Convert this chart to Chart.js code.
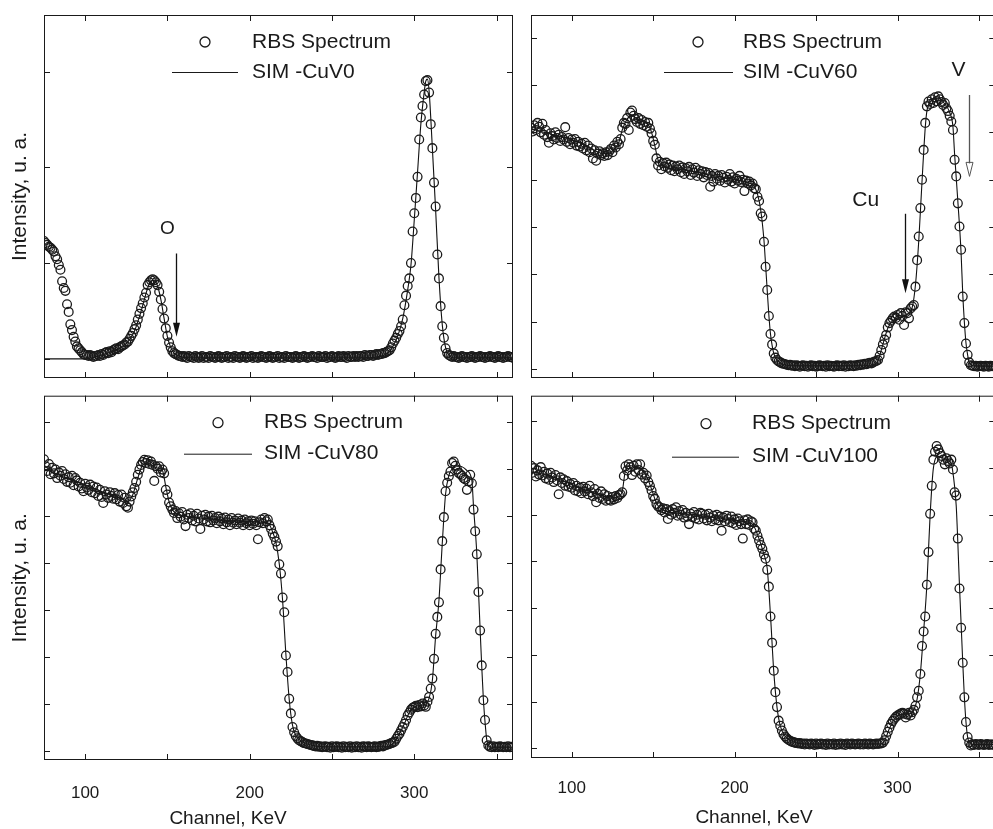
<!DOCTYPE html>
<html>
<head>
<meta charset="utf-8">
<script src="https://cdn.jsdelivr.net/npm/chart.js"></script>
<style>
body{margin:0;background:#fff;overflow:hidden;width:993px;height:829px;position:relative;}
canvas{position:absolute;}
</style>
</head>
<body>
<canvas id="cuv0" width="520" height="390" style="left:0;top:0"></canvas>
<canvas id="cuv60" width="481" height="390" style="left:520px;top:0"></canvas>
<canvas id="cuv80" width="520" height="439" style="left:0;top:390px"></canvas>
<canvas id="cuv100" width="481" height="439" style="left:520px;top:390px"></canvas>
<script>

const FONT = "'Liberation Sans', Arial, sans-serif";

// channel numbers for the RBS points (one per channel)
const channels = [
75,76,77,78,79,80,81,82,83,84,
85,86,87,88,89,90,91,92,93,94,
95,96,97,98,99,100,101,102,103,104,
105,106,107,108,109,110,111,112,113,114,
115,116,117,118,119,120,121,122,123,124,
125,126,127,128,129,130,131,132,133,134,
135,136,137,138,139,140,141,142,143,144,
145,146,147,148,149,150,151,152,153,154,
155,156,157,158,159,160,161,162,163,164,
165,166,167,168,169,170,171,172,173,174,
175,176,177,178,179,180,181,182,183,184,
185,186,187,188,189,190,191,192,193,194,
195,196,197,198,199,200,201,202,203,204,
205,206,207,208,209,210,211,212,213,214,
215,216,217,218,219,220,221,222,223,224,
225,226,227,228,229,230,231,232,233,234,
235,236,237,238,239,240,241,242,243,244,
245,246,247,248,249,250,251,252,253,254,
255,256,257,258,259,260,261,262,263,264,
265,266,267,268,269,270,271,272,273,274,
275,276,277,278,279,280,281,282,283,284,
285,286,287,288,289,290,291,292,293,294,
295,296,297,298,299,300,301,302,303,304,
305,306,307,308,309,310,311,312,313,314,
315,316,317,318,319,320,321,322,323,324,
325,326,327,328,329,330,331,332,333,334,
335,336,337,338,339,340,341,342,343,344,
345,346,347,348,349,350,351,352,353,354,
355,356,357,358,359,360
];

const rbsCuV0 = [
1.23,1.21,1.19,1.17,1.16,1.14,1.12,1.07,1.04,0.98,
0.93,0.81,0.74,0.71,0.57,0.49,0.36,0.30,0.23,0.18,
0.13,0.11,0.09,0.07,0.05,0.04,0.04,0.03,0.04,0.03,
0.02,0.03,0.03,0.04,0.03,0.05,0.04,0.06,0.07,0.06,
0.08,0.07,0.09,0.10,0.11,0.10,0.12,0.13,0.14,0.15,
0.17,0.18,0.21,0.24,0.27,0.31,0.35,0.41,0.47,0.53,
0.58,0.64,0.69,0.77,0.80,0.82,0.83,0.82,0.80,0.77,
0.70,0.62,0.52,0.42,0.32,0.24,0.17,0.12,0.08,0.06,
0.05,0.04,0.03,0.03,0.02,0.03,0.02,0.01,0.03,0.02,
0.02,0.01,0.03,0.02,0.01,0.02,0.03,0.01,0.02,0.02,
0.01,0.03,0.02,0.02,0.01,0.02,0.03,0.02,0.01,0.02,
0.02,0.03,0.01,0.02,0.02,0.01,0.03,0.02,0.02,0.01,
0.02,0.03,0.02,0.01,0.02,0.02,0.03,0.01,0.02,0.02,
0.01,0.02,0.03,0.02,0.02,0.01,0.02,0.03,0.02,0.01,
0.02,0.02,0.03,0.01,0.02,0.02,0.01,0.03,0.02,0.02,
0.02,0.01,0.02,0.03,0.02,0.01,0.02,0.02,0.03,0.02,
0.01,0.02,0.02,0.03,0.02,0.02,0.01,0.03,0.02,0.02,
0.02,0.03,0.01,0.02,0.02,0.03,0.02,0.01,0.02,0.03,
0.02,0.02,0.03,0.02,0.01,0.03,0.02,0.02,0.03,0.02,
0.03,0.02,0.03,0.03,0.02,0.04,0.03,0.03,0.04,0.04,
0.03,0.04,0.05,0.04,0.05,0.05,0.06,0.06,0.07,0.08,
0.09,0.12,0.16,0.19,0.22,0.26,0.29,0.34,0.41,0.56,
0.66,0.76,0.84,1.00,1.33,1.52,1.68,1.90,2.29,2.52,
2.64,2.76,2.90,2.91,2.78,2.45,2.20,1.84,1.59,1.09,
0.84,0.55,0.34,0.22,0.11,0.06,0.04,0.03,0.02,0.03,
0.02,0.02,0.01,0.02,0.03,0.02,0.02,0.01,0.02,0.02,
0.03,0.02,0.01,0.02,0.02,0.03,0.02,0.02,0.01,0.02,
0.02,0.03,0.02,0.02,0.01,0.02,0.03,0.02,0.02,0.01,
0.02,0.02,0.03,0.02,0.02,0.01
];

const rbsCuV60 = [
5.10,5.02,5.15,5.05,5.20,5.12,5.00,5.18,4.95,5.05,
4.90,4.78,4.98,4.92,4.85,5.00,4.88,4.95,4.82,4.90,
4.85,5.11,4.80,4.88,4.75,4.85,4.78,4.86,4.72,4.80,
4.70,4.76,4.66,4.78,4.62,4.72,4.58,4.66,4.45,4.62,
4.40,4.55,4.60,4.52,4.56,4.50,4.58,4.52,4.60,4.65,
4.58,4.72,4.68,4.80,4.75,4.86,5.10,5.20,5.18,5.30,
5.05,5.42,5.46,5.35,5.28,5.22,5.30,5.18,5.26,5.15,
5.22,5.12,5.20,5.08,4.98,4.82,4.74,4.45,4.30,4.38,
4.22,4.35,4.28,4.36,4.25,4.32,4.20,4.30,4.18,4.28,
4.22,4.30,4.16,4.26,4.12,4.24,4.18,4.27,4.10,4.22,
4.15,4.25,4.08,4.20,4.12,4.18,4.05,4.16,4.10,4.14,
3.85,4.08,3.96,4.12,4.02,4.08,3.98,4.10,4.04,3.94,
4.06,4.00,4.12,3.96,4.05,3.92,4.02,3.98,4.08,3.95,
4.00,3.76,3.98,3.92,3.96,3.88,3.92,3.82,3.80,3.64,
3.55,3.29,3.22,2.69,2.16,1.67,1.12,0.74,0.52,0.33,
0.24,0.19,0.16,0.14,0.12,0.11,0.10,0.09,0.08,0.09,
0.07,0.08,0.06,0.08,0.07,0.05,0.07,0.08,0.06,0.07,
0.05,0.07,0.08,0.06,0.07,0.05,0.06,0.08,0.07,0.06,
0.07,0.05,0.08,0.06,0.07,0.06,0.05,0.07,0.08,0.06,
0.07,0.06,0.08,0.05,0.07,0.06,0.08,0.07,0.06,0.08,
0.07,0.09,0.08,0.10,0.09,0.11,0.10,0.12,0.13,0.12,
0.14,0.16,0.17,0.19,0.28,0.40,0.52,0.62,0.72,0.88,
0.97,1.02,1.07,1.11,1.08,1.14,1.04,1.18,1.12,0.93,
1.20,1.18,1.07,1.28,1.32,1.35,1.74,2.30,2.80,3.40,
4.00,4.63,5.20,5.55,5.65,5.60,5.70,5.62,5.74,5.66,
5.76,5.70,5.64,5.58,5.62,5.51,5.45,5.35,5.23,5.05,
4.42,4.07,3.50,3.01,2.52,1.53,0.97,0.54,0.30,0.14,
0.08,0.07,0.06,0.07,0.05,0.06,0.07,0.06,0.05,0.07,
0.06,0.05,0.07,0.06,0.06,0.05
];

const rbsCuV80 = [
6.20,6.05,5.95,6.10,5.88,6.02,5.90,5.98,5.80,5.92,
5.85,5.95,5.78,5.88,5.72,5.82,5.70,5.85,5.65,5.80,
5.75,5.62,5.70,5.58,5.52,5.68,5.60,5.55,5.66,5.50,
5.62,5.48,5.60,5.42,5.55,5.40,5.27,5.52,5.45,5.38,
5.50,5.42,5.36,5.48,5.35,5.44,5.30,5.45,5.27,5.38,
5.20,5.17,5.30,5.41,5.50,5.59,5.72,5.87,5.98,6.08,
6.14,6.19,6.12,6.18,6.10,6.15,6.08,5.74,6.05,6.00,
6.05,5.92,5.98,5.90,5.55,5.45,5.28,5.20,5.13,5.06,
5.10,4.95,5.05,4.98,5.08,4.92,4.78,5.02,4.95,5.05,
4.90,5.00,4.88,5.04,4.94,4.72,5.00,4.92,5.02,4.88,
4.98,4.86,5.00,4.90,4.95,4.84,4.98,4.88,4.94,4.82,
4.96,4.86,4.92,4.80,4.95,4.85,4.90,4.82,4.94,4.85,
4.90,4.80,4.92,4.84,4.88,4.80,4.90,4.83,4.88,4.80,
4.50,4.86,4.92,4.84,4.95,4.88,4.92,4.80,4.72,4.62,
4.55,4.45,4.35,3.97,3.77,3.26,2.95,2.03,1.68,1.11,
0.80,0.51,0.40,0.32,0.27,0.23,0.21,0.19,0.17,0.16,
0.15,0.14,0.13,0.12,0.11,0.10,0.11,0.09,0.10,0.08,
0.09,0.10,0.08,0.09,0.07,0.10,0.08,0.09,0.10,0.08,
0.09,0.07,0.10,0.08,0.09,0.08,0.10,0.07,0.09,0.08,
0.10,0.08,0.09,0.07,0.10,0.09,0.08,0.10,0.09,0.08,
0.09,0.10,0.08,0.09,0.10,0.11,0.10,0.12,0.13,0.14,
0.15,0.17,0.18,0.20,0.26,0.32,0.37,0.44,0.51,0.58,
0.66,0.76,0.82,0.88,0.92,0.94,0.96,0.93,0.98,0.95,
1.01,0.97,0.94,1.05,1.15,1.33,1.54,1.96,2.49,2.85,
3.16,3.86,4.46,4.97,5.52,5.70,5.84,5.94,6.12,6.15,
6.06,5.98,5.91,5.88,5.85,5.80,5.77,5.55,5.73,5.87,
5.69,5.13,4.67,4.18,3.38,2.56,1.82,1.08,0.66,0.23,
0.12,0.09,0.08,0.10,0.08,0.09,0.08,0.10,0.09,0.08,
0.09,0.08,0.10,0.08,0.09,0.08
];

const rbsCuV100 = [
6.05,5.90,6.00,5.82,5.95,5.86,6.02,5.84,5.92,5.78,
5.88,5.75,5.90,5.80,5.70,5.85,5.74,5.44,5.80,5.68,
5.76,5.62,5.72,5.60,5.66,5.58,5.68,5.52,5.62,5.50,
5.58,5.46,5.60,5.50,5.56,5.44,5.62,5.48,5.40,5.55,
5.27,5.45,5.36,5.50,5.34,5.44,5.30,5.40,5.32,5.30,
5.38,5.33,5.40,5.36,5.42,5.44,5.48,5.83,6.04,5.95,
6.08,6.02,5.85,6.05,5.92,6.08,5.96,6.08,5.86,5.90,
5.78,5.84,5.70,5.62,5.52,5.40,5.34,5.23,5.18,5.16,
5.10,5.14,5.05,5.12,4.91,5.08,5.00,5.12,5.04,5.16,
4.98,5.08,5.00,5.10,4.94,5.04,4.96,4.80,5.02,4.95,
5.06,4.92,5.00,4.90,5.04,5.02,4.92,5.00,4.88,5.02,
4.94,4.86,4.98,4.90,5.00,4.88,4.96,4.66,4.94,4.86,
4.98,4.91,4.84,4.96,4.82,4.90,4.78,4.92,4.86,4.80,
4.49,4.88,4.80,4.90,4.78,4.86,4.84,4.70,4.66,4.55,
4.45,4.35,4.27,4.15,4.06,3.82,3.46,2.82,2.26,1.66,
1.20,0.88,0.59,0.48,0.38,0.30,0.25,0.21,0.18,0.16,
0.14,0.13,0.12,0.11,0.10,0.11,0.09,0.10,0.08,0.10,
0.09,0.08,0.10,0.09,0.07,0.10,0.08,0.09,0.10,0.08,
0.09,0.07,0.10,0.08,0.09,0.08,0.10,0.07,0.09,0.08,
0.10,0.08,0.09,0.07,0.10,0.09,0.08,0.10,0.09,0.08,
0.09,0.10,0.08,0.09,0.08,0.10,0.09,0.08,0.10,0.09,
0.08,0.09,0.10,0.09,0.10,0.10,0.12,0.17,0.26,0.35,
0.44,0.52,0.58,0.63,0.67,0.70,0.72,0.74,0.76,0.74,
0.66,0.72,0.76,0.70,0.77,0.82,0.91,1.09,1.23,1.59,
2.19,2.50,2.82,3.50,4.20,5.02,5.62,6.18,6.35,6.47,
6.40,6.32,6.26,6.18,6.08,6.21,6.15,6.10,6.18,5.97,
5.48,5.41,4.49,3.42,2.58,1.83,1.09,0.56,0.24,0.12,
0.06,0.08,0.07,0.09,0.08,0.07,0.09,0.08,0.07,0.08,
0.09,0.07,0.08,0.08,0.07,0.09
];

// simulated spectra (SIMNRA fits)
const simCuV0X = [75,100,106,112,118,123,127,130,133,136,138,140,142,144,146,148,150,152,154,157,162,270,280,284,287,290,293,296,298,300,302,304,306,307,308,309,311,313,315,317,319,321,324,360];
const simCuV0Y = [0,0,0.02,0.05,0.09,0.13,0.2,0.29,0.44,0.62,0.74,0.81,0.82,0.76,0.62,0.42,0.23,0.12,0.06,0.03,0.01,0.01,0.03,0.06,0.13,0.24,0.42,0.72,0.98,1.45,1.95,2.45,2.78,2.9,2.92,2.8,2.2,1.55,0.85,0.36,0.12,0.04,0.01,0.01];

const simCuV60X = [75,85,95,105,112,118,122,126,129,131,134,137,141,147,149,151,153,156,170,185,200,208,212,214,216,218,219,220,221,222,223,224,226,229,235,284,288,291,294,297,302,306,309,311,313,315,317,318,320,325,329,332,334,335,337,339,340,341,342,343,344,346,360];
const simCuV60Y = [5.08,4.98,4.9,4.78,4.65,4.56,4.55,4.64,4.8,5.05,5.28,5.36,5.25,5.16,5.0,4.72,4.42,4.3,4.2,4.1,4.0,3.94,3.86,3.7,3.36,2.72,2.2,1.66,1.14,0.74,0.5,0.33,0.19,0.11,0.07,0.07,0.18,0.52,0.86,1.02,1.1,1.16,1.3,1.78,2.7,3.95,5.1,5.45,5.64,5.72,5.6,5.42,5.12,4.55,3.55,2.45,1.6,1.0,0.55,0.3,0.13,0.07,0.06];

const simCuV80X = [75,85,95,105,115,122,126,129,132,135,138,143,147,149,151,154,160,180,200,211,214,216,218,220,222,224,226,228,231,236,245,284,288,291,294,297,301,307,309,311,313,315,317,319,321,324,328,332,335,336,338,340,341,342,343,344,345,347,360];
const simCuV80Y = [6.0,5.85,5.72,5.58,5.45,5.36,5.3,5.45,5.8,6.08,6.12,6.02,5.96,5.62,5.3,5.08,5.0,4.92,4.87,4.85,4.65,4.42,3.97,3.2,2.05,1.1,0.55,0.33,0.22,0.14,0.09,0.09,0.2,0.37,0.58,0.82,0.95,1.0,1.12,1.5,2.45,3.2,4.4,5.45,5.85,6.02,6.05,5.96,5.75,5.2,4.2,2.6,1.8,1.1,0.62,0.25,0.12,0.08,0.08];

const simCuV100X = [75,85,95,105,115,124,129,131,133,136,142,146,149,152,156,170,190,205,211,214,218,220,222,224,226,228,231,236,245,290,292,295,298,302,308,310,312,314,316,318,320,322,325,329,333,334,336,338,340,341,342,343,344,346,360];
const simCuV100Y = [5.92,5.85,5.72,5.58,5.45,5.36,5.4,5.5,5.95,6.05,6.0,5.82,5.55,5.25,5.1,5.02,4.93,4.86,4.8,4.58,4.15,3.85,2.85,1.65,0.88,0.48,0.26,0.14,0.09,0.09,0.16,0.42,0.62,0.72,0.74,0.82,1.05,1.6,2.5,3.5,5.0,6.0,6.25,6.2,6.1,5.9,5.2,3.5,1.85,1.1,0.56,0.24,0.12,0.08,0.08];

const xTicks = [100,150,200,250,300,350];
const yTicksSmall = [0,1,2,3];
const yTicksBig = [0,1,2,3,4,5,6,7];

/* frame, inward ticks, legend, notes */

const rbsDecor = {
id:"rbsDecor",
afterDraw(chart, args, o){
const ctx = chart.ctx;
const a = chart.chartArea;
const xs = chart.scales.x;
const ys = chart.scales.y;
ctx.save();
ctx.strokeStyle = "#1a1a1a";
ctx.fillStyle = "#1a1a1a";
ctx.lineWidth = 1;
ctx.strokeRect(a.left+0.5, a.top+0.5, a.right-a.left-1, a.bottom-a.top-1);

ctx.beginPath();
xs.ticks.forEach(t=>{
const px = Math.round(xs.getPixelForValue(t.value))+0.5;
ctx.moveTo(px, a.bottom); ctx.lineTo(px, a.bottom-6);
ctx.moveTo(px, a.top); ctx.lineTo(px, a.top+6);
});
ys.ticks.forEach(t=>{
const py = Math.round(ys.getPixelForValue(t.value))+0.5;
ctx.moveTo(a.left, py); ctx.lineTo(a.left+6, py);
ctx.moveTo(a.right, py); ctx.lineTo(a.right-6, py);
});
ctx.stroke();

// legend
const lg = o.legend;
const ds = chart.data.datasets;
ctx.font = "21px " + FONT;
ctx.textBaseline = "middle";
ctx.textAlign = "left";
ctx.lineWidth = 1.3;
ctx.beginPath();
ctx.arc(a.left+lg.mx, a.top+lg.r1, 5, 0, Math.PI*2);
ctx.stroke();
ctx.fillText(ds[0].label, a.left+lg.tx, a.top+lg.r1);
ctx.lineWidth = 1;
ctx.beginPath();
ctx.moveTo(a.left+lg.lx1, a.top+lg.r2+0.5);
ctx.lineTo(a.left+lg.lx2, a.top+lg.r2+0.5);
ctx.stroke();
ctx.fillText(ds[1].label, a.left+lg.tx, a.top+lg.r2);

// element labels and arrows
(o.notes || []).forEach(n=>{
ctx.font = n.size + "px " + FONT;
ctx.textAlign = "center";
ctx.fillText(n.text, xs.getPixelForValue(n.x), ys.getPixelForValue(n.y));
});
(o.arrows || []).forEach(n=>{
const px = Math.round(xs.getPixelForValue(n.x))+0.5;
const y1 = ys.getPixelForValue(n.y1);
const y2 = ys.getPixelForValue(n.y2);
ctx.strokeStyle = n.color;
ctx.fillStyle = n.color;
ctx.lineWidth = 1.3;
ctx.beginPath();
ctx.moveTo(px, y1); ctx.lineTo(px, y2-13);
ctx.stroke();
ctx.beginPath();
ctx.moveTo(px-3.5, y2-14); ctx.lineTo(px+3.5, y2-14); ctx.lineTo(px, y2);
ctx.closePath();
if(n.open){ ctx.lineWidth = 1; ctx.stroke(); } else { ctx.fill(); }
});

// x axis title
if(o.xTitle){
ctx.fillStyle = "#1a1a1a";
ctx.font = "19px " + FONT;
ctx.textAlign = "center";
ctx.fillText(o.xTitle.text, a.left+o.xTitle.dx, a.bottom+o.xTitle.dy);
}
ctx.restore();
}
};

function makePanel(id, p){

const rbsPts = channels.map((c,i)=>({x:c, y:p.rbs[i]}));
const simPts = p.simX.map((c,i)=>({x:c, y:p.simY[i]}));

new Chart(document.getElementById(id),{
type:"scatter",
data:{
datasets:[
{
label:"RBS Spectrum",
data:rbsPts,
pointStyle:"circle",
pointRadius:4.4,
pointBorderWidth:1.3,
pointBorderColor:"#1a1a1a",
pointBackgroundColor:"rgba(0,0,0,0)",
clip:0
},
{
label:p.simLabel,
data:simPts,
showLine:true,
borderColor:"#111",
borderWidth:1.1,
pointRadius:0,
cubicInterpolationMode:"monotone",
clip:0
}
]
},
options:{
responsive:false,
animation:false,
events:[],
devicePixelRatio:1,
layout:{padding:{top:p.padTop, right:p.padRight, left:0, bottom:0}},
scales:{
x:{
type:"linear",
min:75,
max:360,
afterBuildTicks:s=>{ s.ticks = xTicks.map(v=>({value:v})); },
afterFit:s=>{ s.height = p.xh; },
grid:{display:false},
border:{display:false},
ticks:{
display:p.xLabels,
padding:p.tickPad,
color:"#1a1a1a",
font:{family:FONT, size:17},
maxRotation:0,
autoSkip:false,
callback:v=> v % 100 === 0 ? String(v) : ""
}
},
y:{
type:"linear",
min:p.ymin,
max:p.ymax,
afterBuildTicks:s=>{ s.ticks = p.yTicks.map(v=>({value:v})); },
afterFit:s=>{ s.width = p.yw; },
grid:{display:false},
border:{display:false},
ticks:{display:false},
title:{
display:p.yTitle,
text:"Intensity, u. a.",
color:"#1a1a1a",
font:{family:FONT, size:21},
padding:{top:8, bottom:0}
}
}
},
plugins:{
legend:{display:false},
tooltip:{enabled:false},
rbsDecor:{legend:p.legend, notes:p.notes, arrows:p.arrows, xTitle:p.xTitle}
}
},
plugins:[rbsDecor]
});

}

makePanel("cuv0",{
rbs:rbsCuV0, simX:simCuV0X, simY:simCuV0Y, simLabel:"SIM -CuV0",
ymin:-0.2, ymax:3.59, yTicks:yTicksSmall,
padTop:15, padRight:7, yw:44, xh:12, xLabels:false, tickPad:15, yTitle:true,
legend:{mx:161, tx:208, lx1:128, lx2:194, r1:27, r2:57},
notes:[{text:"O", x:150, y:1.36, size:19}],
arrows:[{x:155.5, y1:1.10, y2:0.23, color:"#111", open:false}]
});

makePanel("cuv60",{
rbs:rbsCuV60, simX:simCuV60X, simY:simCuV60Y, simLabel:"SIM -CuV60",
ymin:-0.19, ymax:7.48, yTicks:yTicksBig,
padTop:15, padRight:0, yw:11, xh:12, xLabels:false, tickPad:15, yTitle:false,
legend:{mx:167, tx:212, lx1:133, lx2:202, r1:27, r2:57},
notes:[{text:"Cu", x:280.5, y:3.57, size:21},{text:"V", x:337.4, y:6.32, size:21}],
arrows:[{x:304.5, y1:3.28, y2:1.60, color:"#111", open:false},{x:344, y1:5.79, y2:4.07, color:"#555", open:true}]
});

makePanel("cuv80",{
rbs:rbsCuV80, simX:simCuV80X, simY:simCuV80Y, simLabel:"SIM -CuV80",
ymin:-0.19, ymax:7.55, yTicks:yTicksBig,
padTop:4, padRight:7, yw:44, xh:69, xLabels:true, tickPad:15, yTitle:true,
legend:{mx:174, tx:220, lx1:140, lx2:208, r1:27, r2:58},
xTitle:{text:"Channel, KeV", dx:184, dy:59}
});

makePanel("cuv100",{
rbs:rbsCuV100, simX:simCuV100X, simY:simCuV100Y, simLabel:"SIM -CuV100",
ymin:-0.21, ymax:7.55, yTicks:yTicksBig,
padTop:4, padRight:0, yw:11, xh:71, xLabels:true, tickPad:12, yTitle:false,
legend:{mx:175, tx:221, lx1:141, lx2:208, r1:28, r2:61},
xTitle:{text:"Channel, KeV", dx:223, dy:60}
});

</script>
</body>
</html>
